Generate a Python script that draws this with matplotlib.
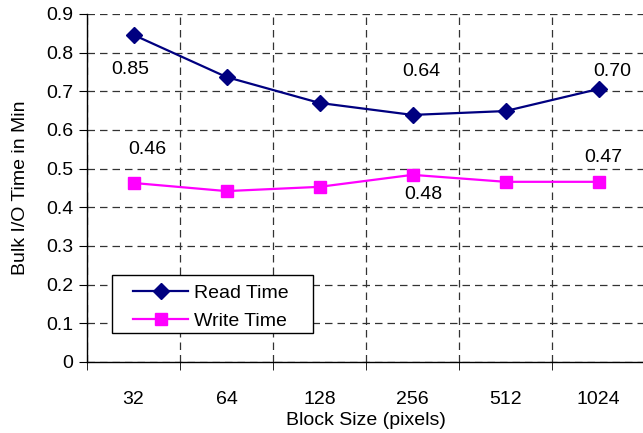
import matplotlib
matplotlib.use("Agg")
import matplotlib.pyplot as plt
from matplotlib.patches import Rectangle
import numpy as np

categories = ["32", "64", "128", "256", "512", "1024"]
read_time = [0.846, 0.737, 0.670, 0.639, 0.649, 0.706]
write_time = [0.463, 0.442, 0.453, 0.484, 0.466, 0.466]
y_ticks = [0, 0.1, 0.2, 0.3, 0.4, 0.5, 0.6, 0.7, 0.8, 0.9]
y_tick_labels = ["0", "0.1", "0.2", "0.3", "0.4", "0.5", "0.6", "0.7", "0.8", "0.9"]

# data labels: (index, text, pixel offset)
read_labels = [(0, "0.85", (-3, -35)), (3, "0.64", (9, 43)), (5, "0.70", (14, 18))]
write_labels = [(0, "0.46", (14, 33)), (3, "0.48", (11, -20)), (5, "0.47", (5, 24))]

FS = 14
plt.rcParams['font.family'] = ['Liberation Sans', 'DejaVu Sans']

W, H = 643, 433
fig = plt.figure(figsize=(W / 100, H / 100), dpi=100)
ax = fig.add_axes([87 / W, 1 - 362 / H, 558 / W, 348 / H])

x = np.arange(len(categories))
ax.plot(x, read_time, color="#000080", marker="D", markersize=8, linewidth=1.6,
        label="Read Time", clip_on=False, zorder=3)
ax.plot(x, write_time, color="#FF00FF", marker="s", markersize=9, linewidth=1.6,
        label="Write Time", clip_on=False, zorder=3)

for i, t, off in read_labels:
    ax.annotate(t, (x[i], read_time[i]), xytext=off, textcoords="offset pixels",
                ha="center", va="center", fontsize=FS)
for i, t, off in write_labels:
    ax.annotate(t, (x[i], write_time[i]), xytext=off, textcoords="offset pixels",
                ha="center", va="center", fontsize=FS)

ax.set_xlim(-0.5, len(categories) - 0.5)
ax.set_ylim(0, 0.9)
ax.set_yticks(y_ticks)
ax.set_yticklabels(y_tick_labels, fontsize=FS)
ax.set_xticks(x)
ax.set_xticklabels(categories, fontsize=FS)
ax.tick_params(axis="x", which="major", length=0, pad=21)
ax.set_xticks(np.arange(-0.5, len(categories) + 0.5, 1), minor=True)
ax.tick_params(axis="x", which="minor", length=6, direction="out", color="black")
ax.tick_params(axis="y", length=6, direction="out", color="black", pad=4)

ax.grid(True, axis="y", which="major", color="#333333", linestyle=(0, (6, 4)), linewidth=0.9)
ax.grid(True, axis="x", which="minor", color="#333333", linestyle=(0, (6, 4)), linewidth=0.9)
ax.grid(False, axis="x", which="major")
ax.set_axisbelow(True)

for s in ["top", "right"]:
    ax.spines[s].set_visible(False)
for s in ["left", "bottom"]:
    ax.spines[s].set_color("black")
    ax.spines[s].set_linewidth(1.0)

ax.set_xlabel("Block Size (pixels)", fontsize=FS, labelpad=3)
ax.set_ylabel("Bulk I/O Time in Min", fontsize=FS, labelpad=12)

# legend box (frame drawn separately to match padding)
ax.add_patch(Rectangle((112 / W, 1 - 333 / H), (313 - 112) / W, (333 - 275) / H,
                       transform=fig.transFigure, facecolor="white",
                       edgecolor="black", linewidth=1.0, zorder=4, clip_on=False))
leg = ax.legend(loc="center left", bbox_to_anchor=(133 / W, 1 - 307 / H),
                bbox_transform=fig.transFigure,
                fontsize=FS, frameon=False, borderpad=0.0,
                handlelength=2.85, handletextpad=0.3, labelspacing=0.55, borderaxespad=0)
leg.set_zorder(5)

fig.savefig("out.png", dpi=100)
